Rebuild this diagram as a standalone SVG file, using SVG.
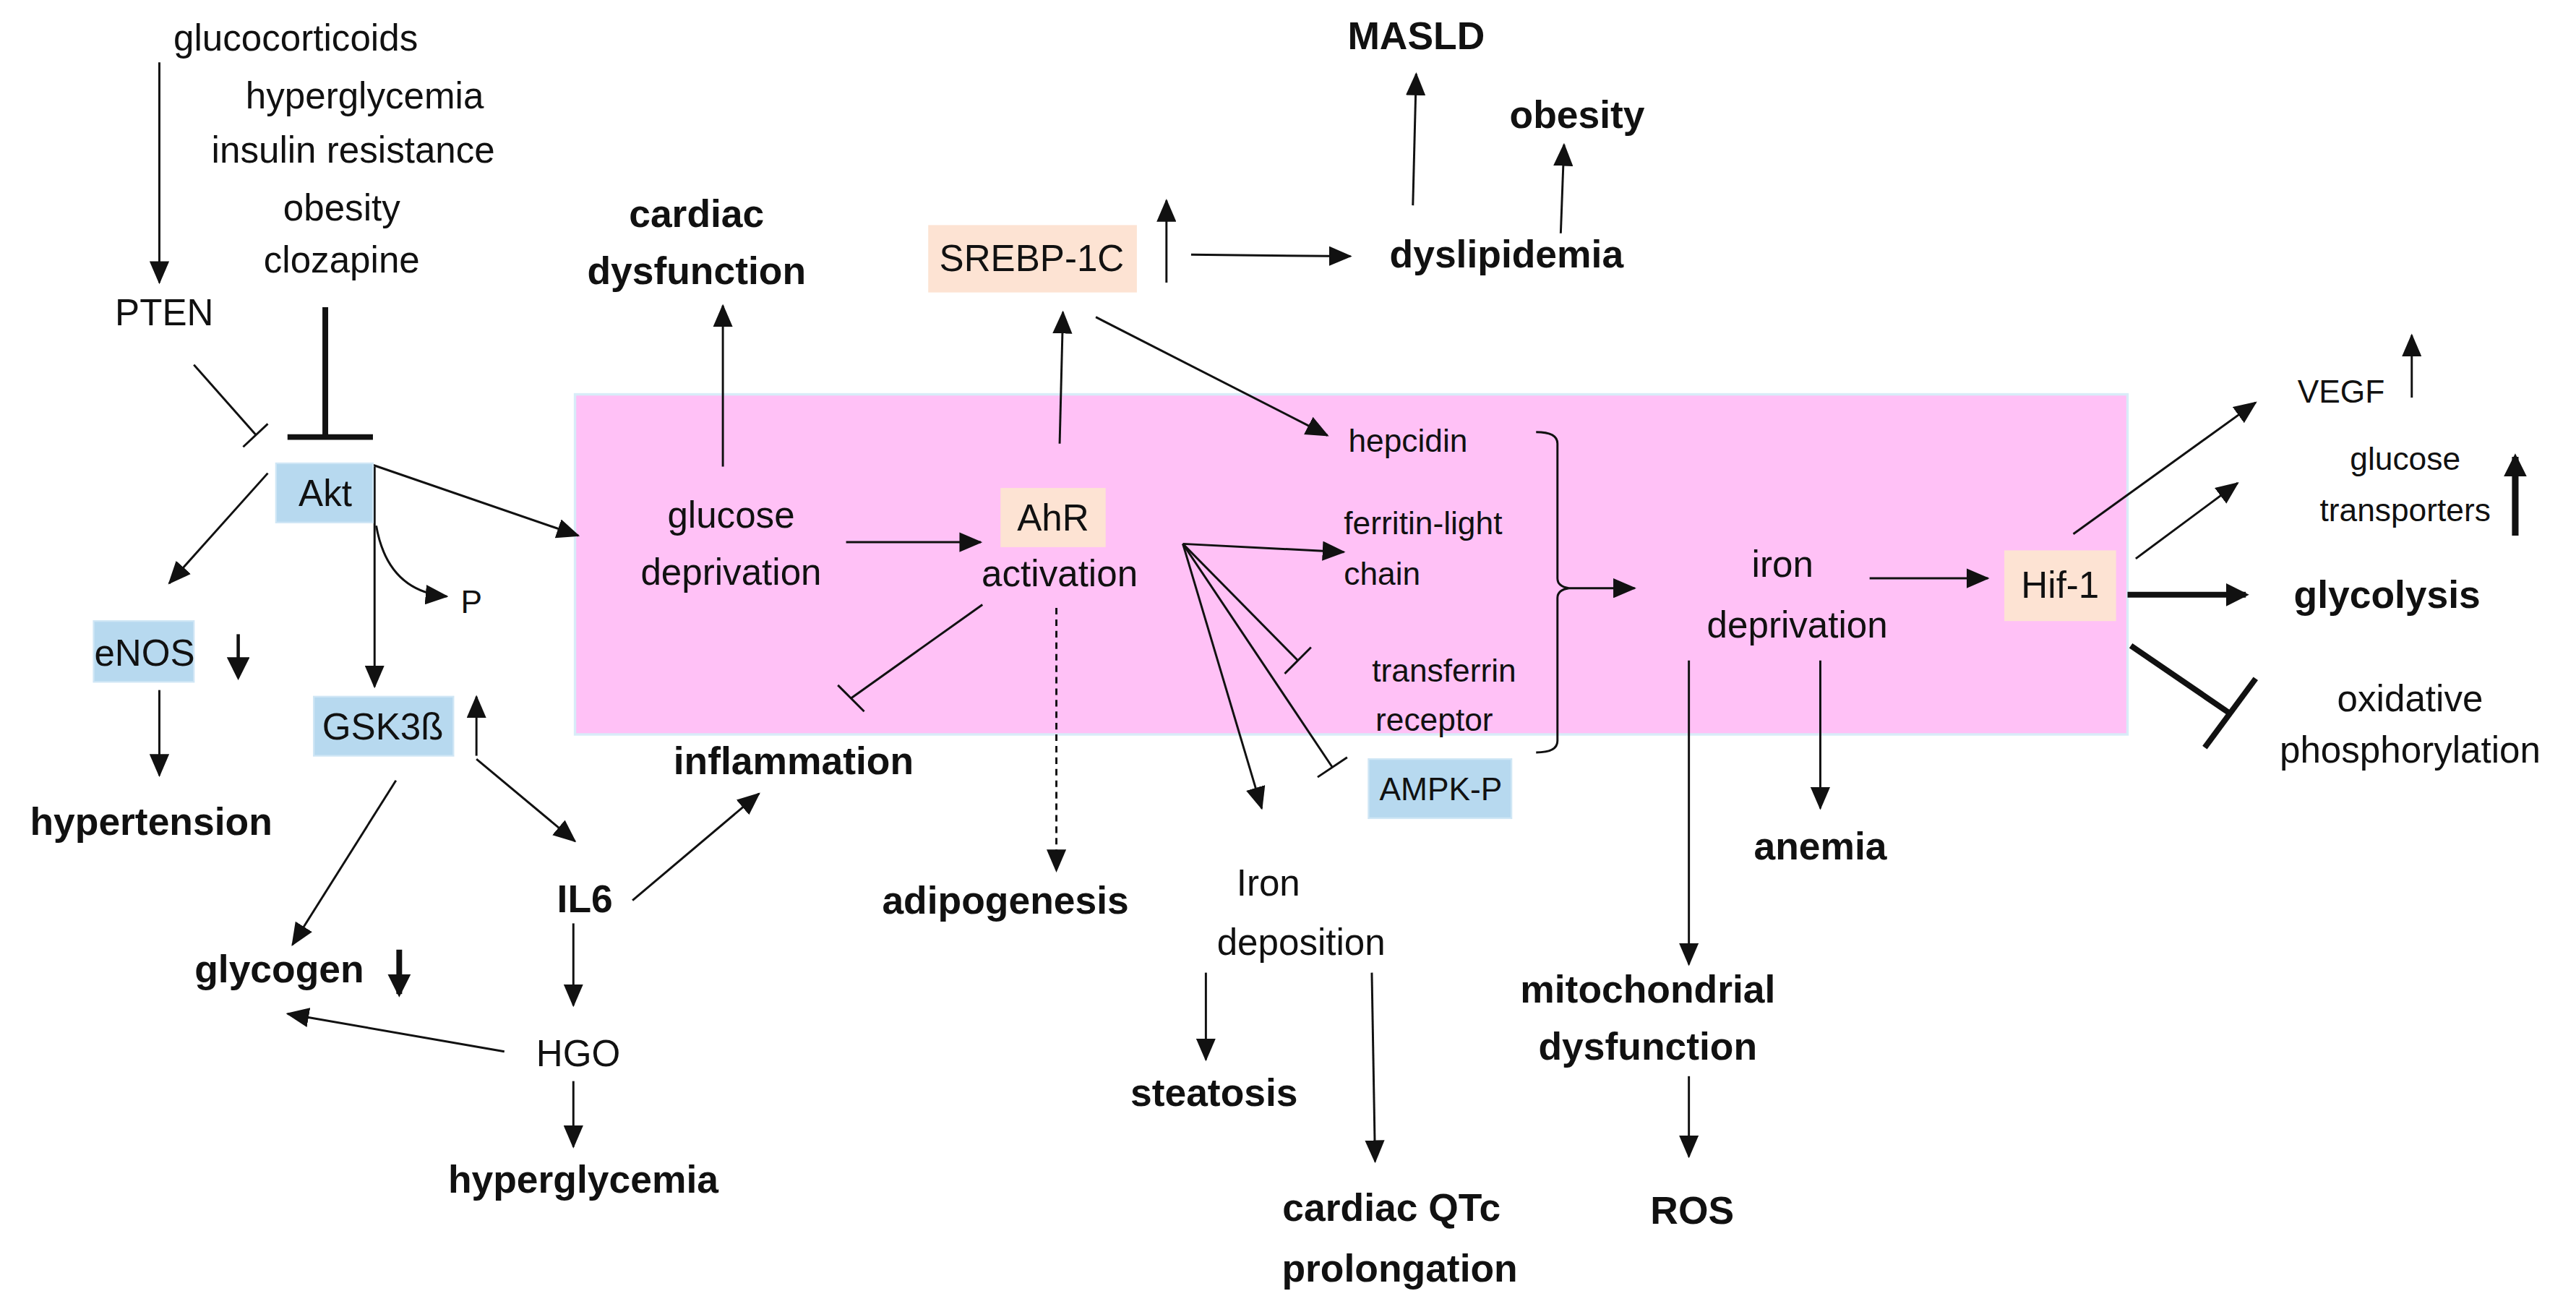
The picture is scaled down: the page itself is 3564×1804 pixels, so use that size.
<svg xmlns="http://www.w3.org/2000/svg" width="3564" height="1804" viewBox="0 0 3564 1804">
<style>
text{font-family:"Liberation Sans",Arial,sans-serif;fill:#111;text-anchor:middle}
.r{font-size:22.5px}
.b{font-size:23.5px;font-weight:bold}
.s{font-size:19.5px}
.l{stroke:#111;stroke-width:1.3;fill:none}
.t{stroke:#111;stroke-width:3.5;fill:none}
.a{marker-end:url(#ah)}
.at{marker-end:url(#aht)}
.blue{fill:#b7d9ef;stroke:#cfe6f5}
.peach{fill:#fde3d3}
</style>
<defs>
<marker id="ah" markerUnits="userSpaceOnUse" markerWidth="14" markerHeight="12" refX="13" refY="6" orient="auto"><path d="M0,0L14,6L0,12z" fill="#111"/></marker>
<marker id="aht" markerUnits="userSpaceOnUse" markerWidth="14" markerHeight="14" refX="12" refY="7" orient="auto"><path d="M0,0L14,7L0,14z" fill="#111"/></marker>
</defs>
<rect width="3564" height="1804" fill="#fff"/>
<g transform="scale(2.273)">
<rect id="region" x="350" y="240" width="945" height="207" fill="#ffc1f6" stroke="#d8ecf8" stroke-width="1.5"/>
<g id="connectors">
<line class="l a" x1="97" y1="38" x2="97" y2="172"/>
<line class="t" x1="198" y1="187" x2="198" y2="266"/><line class="t" x1="175" y1="266" x2="227" y2="266"/>
<line class="l" x1="118" y1="222" x2="156" y2="265" stroke="#555"/><line class="l" x1="148" y1="272" x2="163" y2="258" stroke="#555"/>
<line class="l a" x1="227" y1="283" x2="352" y2="326"/>
<line class="l a" x1="163" y1="288" x2="103" y2="355"/>
<line class="l a" x1="228" y1="284" x2="228" y2="418"/>
<path class="l a" d="M229,320 Q236,360 272,363"/>
<line class="t at" x1="145" y1="386" x2="145" y2="412" style="stroke-width:2"/>
<line class="l a" x1="97" y1="420" x2="97" y2="472"/>
<line class="l a" x1="290" y1="460" x2="290" y2="424"/>
<line class="l a" x1="241" y1="475" x2="178" y2="575"/>
<line class="l a" x1="290" y1="462" x2="350" y2="512"/>
<line class="t at" x1="243" y1="578" x2="243" y2="605"/>
<line class="l a" x1="385" y1="548" x2="462" y2="483"/>
<line class="l a" x1="349" y1="562" x2="349" y2="612"/>
<line class="l a" x1="307" y1="640" x2="175" y2="617"/>
<line class="l a" x1="349" y1="658" x2="349" y2="698"/>
<line class="l a" x1="440" y1="284" x2="440" y2="186"/>
<line class="l a" x1="515" y1="330" x2="597" y2="330"/>
<line class="l a" x1="645" y1="270" x2="647" y2="190"/>
<line class="l a" x1="710" y1="172" x2="710" y2="122"/>
<line class="l a" x1="725" y1="155" x2="822" y2="156"/>
<line class="l a" x1="860" y1="125" x2="862" y2="45"/>
<line class="l a" x1="950" y1="142" x2="952" y2="88"/>
<line class="l a" x1="667" y1="193" x2="808" y2="265"/>
<line class="l a" x1="720" y1="331" x2="818" y2="336"/>
<line class="l" x1="720" y1="331" x2="790" y2="402"/><line class="l" x1="782" y1="410" x2="798" y2="394"/>
<line class="l" x1="720" y1="331" x2="811" y2="467"/><line class="l" x1="802" y1="473" x2="820" y2="461"/>
<line class="l a" x1="720" y1="331" x2="768" y2="492"/>
<line class="l" x1="598" y1="368" x2="518" y2="425"/><line class="l" x1="510" y1="417" x2="526" y2="433"/>
<line class="l a" x1="643" y1="370" x2="643" y2="530" stroke-dasharray="4,3"/>
<line class="l a" x1="734" y1="592" x2="734" y2="645"/>
<line class="l a" x1="835" y1="592" x2="837" y2="707"/>
<path class="l" d="M935,263 Q948,263 948,270 L948,352 Q948,357 955,358 Q948,359 948,364 L948,451 Q948,458 935,458"/>
<line class="l a" x1="955" y1="358" x2="995" y2="358"/>
<line class="l a" x1="1138" y1="352" x2="1210" y2="352"/>
<line class="l a" x1="1108" y1="402" x2="1108" y2="492"/>
<line class="l a" x1="1028" y1="402" x2="1028" y2="587"/>
<line class="l a" x1="1028" y1="655" x2="1028" y2="704"/>
<line class="l a" x1="1262" y1="325" x2="1373" y2="245"/>
<line class="l a" x1="1468" y1="242" x2="1468" y2="204"/>
<line class="l a" x1="1300" y1="340" x2="1362" y2="294"/>
<line class="t at" x1="1531" y1="326" x2="1531" y2="278" style="stroke-width:4"/>
<line class="t at" x1="1295" y1="362" x2="1367" y2="362"/>
<line class="t" x1="1297" y1="393" x2="1357" y2="434"/><line class="t" x1="1342" y1="455" x2="1373" y2="413"/>
</g>
<g id="n-gluco"><text class="r" x="180" y="31">glucocorticoids</text>
<text class="r" x="222" y="66">hyperglycemia</text>
<text class="r" x="215" y="99">insulin resistance</text>
<text class="r" x="208" y="134">obesity</text>
<text class="r" x="208" y="166">clozapine</text></g>
<g id="n-pten"><text class="r" x="100" y="198">PTEN</text></g>
<g id="n-akt"><rect class="blue" x="168" y="282" width="59" height="36"/><text class="r" x="198" y="308">Akt</text></g>
<g id="n-p"><text class="s" x="287" y="373">P</text></g>
<g id="n-enos"><rect class="blue" x="57" y="378" width="61" height="37"/><text class="r" x="88" y="405">eNOS</text></g>
<g id="n-hyperten"><text class="b" x="92" y="508">hypertension</text></g>
<g id="n-gsk"><rect class="blue" x="191" y="424" width="85" height="36"/><text class="r" x="233" y="450">GSK3ß</text></g>
<g id="n-glycogen"><text class="b" x="170" y="598">glycogen</text></g>
<g id="n-il6"><text class="b" x="356" y="555">IL6</text></g>
<g id="n-hgo"><text class="r" x="352" y="649">HGO</text></g>
<g id="n-hyperg"><text class="b" x="355" y="726">hyperglycemia</text></g>
<g id="n-inflam"><text class="b" x="483" y="471">inflammation</text></g>
<g id="n-cardiac"><text class="b" x="424" y="138">cardiac</text><text class="b" x="424" y="173">dysfunction</text></g>
<g id="n-glucdep"><text class="r" x="445" y="321">glucose</text><text class="r" x="445" y="356">deprivation</text></g>
<g id="n-ahr"><rect class="peach" x="609" y="297" width="64" height="36"/><text class="r" x="641" y="323">AhR</text><text class="r" x="645" y="357">activation</text></g>
<g id="n-srebp"><rect class="peach" x="565" y="137" width="127" height="41"/><text class="r" x="628" y="165">SREBP-1C</text></g>
<g id="n-dyslip"><text class="b" x="917" y="163">dyslipidemia</text></g>
<g id="n-masld"><text class="b" x="862" y="30">MASLD</text></g>
<g id="n-obesity"><text class="b" x="960" y="78">obesity</text></g>
<g id="n-hepcidin"><text class="s" x="857" y="275">hepcidin</text></g>
<g id="n-ferritin"><text class="s" x="818" y="325" style="text-anchor:start">ferritin-light</text><text class="s" x="818" y="356" style="text-anchor:start">chain</text></g>
<g id="n-transferrin"><text class="s" x="879" y="415">transferrin</text><text class="s" x="873" y="445">receptor</text></g>
<g id="n-ampk"><rect class="blue" x="833" y="462" width="87" height="36"/><text class="s" x="877" y="487">AMPK-P</text></g>
<g id="n-adipo"><text class="b" x="612" y="556">adipogenesis</text></g>
<g id="n-irondep"><text class="r" x="772" y="545">Iron</text><text class="r" x="792" y="581">deposition</text></g>
<g id="n-steat"><text class="b" x="739" y="673">steatosis</text></g>
<g id="n-qtc"><text class="b" x="847" y="743">cardiac QTc</text><text class="b" x="852" y="780">prolongation</text></g>
<g id="n-irondepr"><text class="r" x="1085" y="351">iron</text><text class="r" x="1094" y="388">deprivation</text></g>
<g id="n-hif"><rect class="peach" x="1220" y="335" width="68" height="43"/><text class="r" x="1254" y="364">Hif-1</text></g>
<g id="n-anemia"><text class="b" x="1108" y="523">anemia</text></g>
<g id="n-mito"><text class="b" x="1003" y="610">mitochondrial</text><text class="b" x="1003" y="645">dysfunction</text></g>
<g id="n-ros"><text class="b" x="1030" y="745">ROS</text></g>
<g id="n-vegf"><text class="s" x="1425" y="245">VEGF</text></g>
<g id="n-gt"><text class="s" x="1464" y="286">glucose</text><text class="s" x="1464" y="317">transporters</text></g>
<g id="n-glycol"><text class="b" x="1453" y="370">glycolysis</text></g>
<g id="n-oxphos"><text class="r" x="1467" y="433">oxidative</text><text class="r" x="1467" y="464">phosphorylation</text></g>
</g>
</svg>
